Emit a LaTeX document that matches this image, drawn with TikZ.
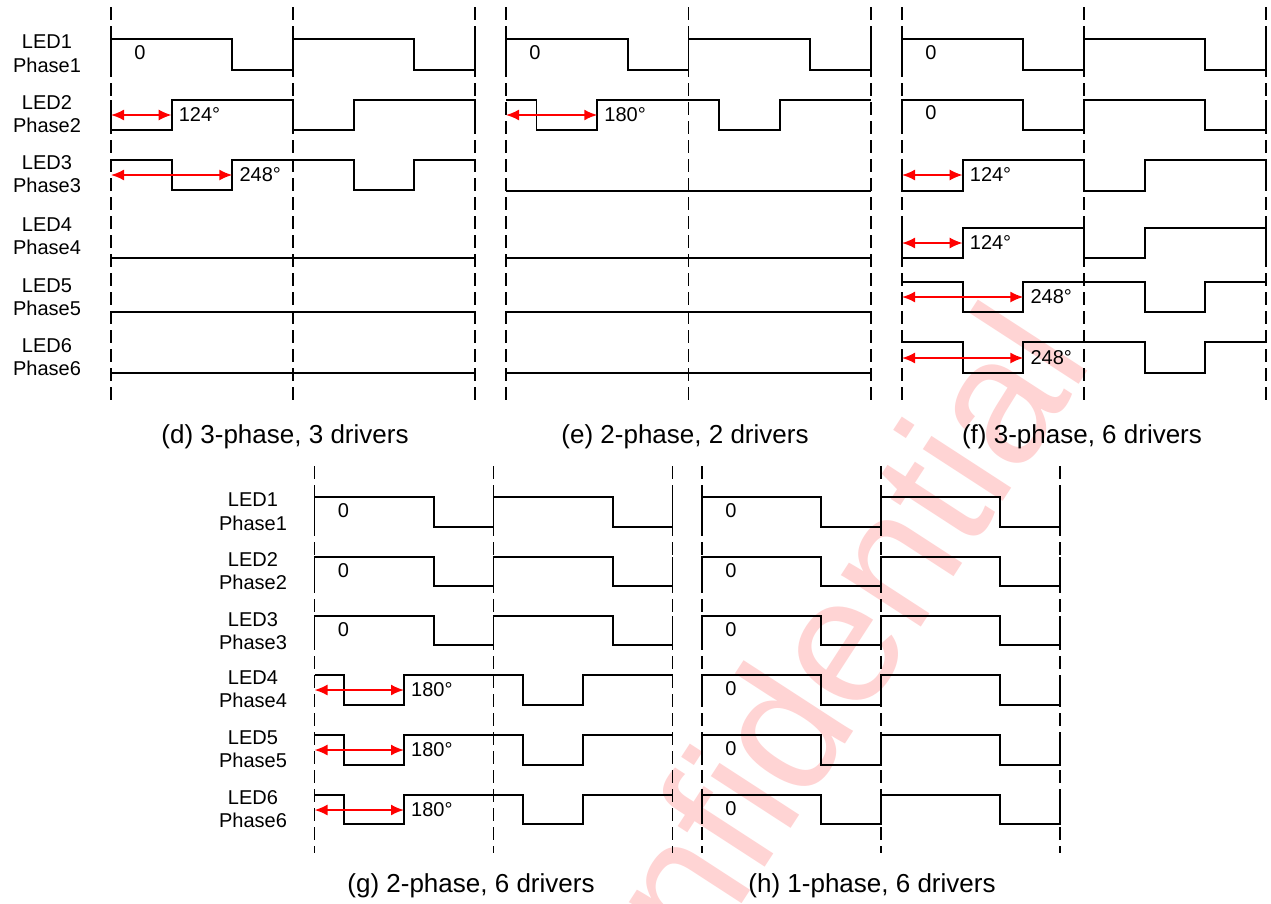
\documentclass[tikz,border=0pt]{standalone}
\usepackage{fontspec}
\setmainfont{Liberation Sans}
\usetikzlibrary{arrows.meta}
\tikzset{
  sig/.style={line width=1.8pt, line join=miter, black},
  dsh/.style={line width=1.3pt, dash pattern=on 13pt off 6pt, black},
  arr/.style={line width=1.8pt, red, {Latex[length=13pt,width=11pt]}-{Latex[length=13pt,width=11pt]}},
  lbl/.style={font=\fontsize{20}{23.5}\selectfont, inner sep=0pt},
  rowlbl/.style={font=\fontsize{20}{23.5}\selectfont, align=center, inner sep=0pt},
  captxt/.style={font=\fontsize{26}{30}\selectfont, inner sep=0pt},
  wm/.style={font=\fontsize{180}{180}\selectfont, text=red!17, inner sep=0pt}
}
% waveforms: #1 x0, #2 period, #3 high y, #4 low y
\newcommand{\wavA}[4]{\draw[sig] (#1,#4)--(#1,#3)--({#1+2*#2/3},#3)--({#1+2*#2/3},#4)--({#1+#2},#4)--({#1+#2},#3)--({#1+5*#2/3},#3)--({#1+5*#2/3},#4)--({#1+2*#2},#4)--({#1+2*#2},#3);}
\newcommand{\wavB}[4]{\draw[sig] (#1,#3)--(#1,#4)--({#1+#2/3},#4)--({#1+#2/3},#3)--({#1+#2},#3)--({#1+#2},#4)--({#1+4*#2/3},#4)--({#1+4*#2/3},#3)--({#1+2*#2},#3)--({#1+2*#2},#4);}
\newcommand{\wavC}[4]{\draw[sig] (#1,#3)--({#1+#2/3},#3)--({#1+#2/3},#4)--({#1+2*#2/3},#4)--({#1+2*#2/3},#3)--({#1+4*#2/3},#3)--({#1+4*#2/3},#4)--({#1+5*#2/3},#4)--({#1+5*#2/3},#3)--({#1+2*#2},#3);}
\newcommand{\wavD}[4]{\draw[sig] (#1,#3)--({#1+#2/6},#3)--({#1+#2/6},#4)--({#1+#2/2},#4)--({#1+#2/2},#3)--({#1+7*#2/6},#3)--({#1+7*#2/6},#4)--({#1+3*#2/2},#4)--({#1+3*#2/2},#3)--({#1+2*#2},#3);}
\newcommand{\wavF}[3]{\draw[sig] (#1,#3)--({#1+2*#2},#3);}
% zero label: #1 name, #2 x0, #3 high y
\newcommand{\zlbl}[3]{\node[lbl] (#1) at ({#2+29},{#3+14}) {0};}
% phase arrow: #1 name, #2 x0, #3 x end, #4 y, #5 text
\newcommand{\degarr}[5]{\coordinate (#1s) at (#2,#4); \coordinate (#1e) at (#3,#4);
  \draw[arr] (#1s)--(#1e);
  \node[lbl,anchor=west] (#1t) at ([xshift=7pt]#1e) {#5};}
\begin{document}
\begin{tikzpicture}[x=1pt,y=-1pt]
\useasboundingbox (0,0) rectangle (1271,903);
\fill[white] (0,0) rectangle (1271,903);
% watermark
\begin{scope}
\clip (0,0) rectangle (1271,903);
\node[wm, rotate=57] (wmark) at (782,724) {Confidential};
\end{scope}
% dashed grid lines
\foreach \x in {111,293,475,506,688.5,871,902,1084,1266} \draw[dsh] (\x,7)--(\x,404);
\foreach \x in {314.5,493.5,672.5,702,881,1060} \draw[dsh] (\x,466)--(\x,853);
% row labels
\foreach \i/\y in {1/53.5,2/114,3/174,4/236,5/297,6/357}
  \node[rowlbl] (tl\i) at (47,\y) {LED\i\\Phase\i};
\foreach \i/\y in {1/511.5,2/571,3/631,4/689,5/749,6/809}
  \node[rowlbl] (bl\i) at (253,\y) {LED\i\\Phase\i};
% ---- (d)
\wavA{111}{182}{39}{70}
\zlbl{d0}{111}{39}
\wavB{111}{182}{100}{130}
\degarr{dA}{111}{171.67}{115}{124°}
\wavC{111}{182}{160}{190}
\degarr{dB}{111}{232.33}{175}{248°}
\wavF{111}{182}{258}
\wavF{111}{182}{312}
\wavF{111}{182}{373}
% ---- (e)
\wavA{506}{182.5}{39}{70}
\zlbl{e0}{506}{39}
\wavD{506}{182.5}{100}{130}
\degarr{eA}{506}{597.25}{115}{180°}
\wavF{506}{182.5}{191}
\wavF{506}{182.5}{258}
\wavF{506}{182.5}{312}
\wavF{506}{182.5}{373}
% ---- (f)
\wavA{902}{182}{39}{70}
\zlbl{f0}{902}{39}
\wavA{902}{182}{100}{130}
\zlbl{f1}{902}{99}
\wavB{902}{182}{160}{191}
\degarr{fA}{902}{962.67}{175}{124°}
\wavB{902}{182}{228}{258}
\degarr{fB}{902}{962.67}{243}{124°}
\wavC{902}{182}{282}{312}
\degarr{fC}{902}{1023.33}{297}{248°}
\wavC{902}{182}{342}{373}
\degarr{fD}{902}{1023.33}{358}{248°}
% ---- (g)
\wavA{314.5}{179}{497}{527}
\zlbl{g0}{314.5}{497}
\wavA{314.5}{179}{557}{586}
\zlbl{g1}{314.5}{557}
\wavA{314.5}{179}{616}{645}
\zlbl{g2}{314.5}{616}
\wavD{314.5}{179}{675}{705}
\degarr{gA}{314.5}{404}{690}{180°}
\wavD{314.5}{179}{735}{765}
\degarr{gB}{314.5}{404}{750}{180°}
\wavD{314.5}{179}{795}{824}
\degarr{gC}{314.5}{404}{810}{180°}
% ---- (h)
\foreach \h/\l/\n in {497/527/1,557/586/2,616/645/3,675/705/4,735/765/5,795/824/6}{
  \wavA{702}{179}{\h}{\l}
  \zlbl{h\n}{702}{\h}
}
% captions
\node[captxt] (capd) at (285,437) {(d) 3-phase, 3 drivers};
\node[captxt] (cape) at (685,437) {(e) 2-phase, 2 drivers};
\node[captxt] (capf) at (1082,437) {(f) 3-phase, 6 drivers};
\node[captxt] (capg) at (471,886) {(g) 2-phase, 6 drivers};
\node[captxt] (caph) at (872,886) {(h) 1-phase, 6 drivers};
\end{tikzpicture}
\end{document}
